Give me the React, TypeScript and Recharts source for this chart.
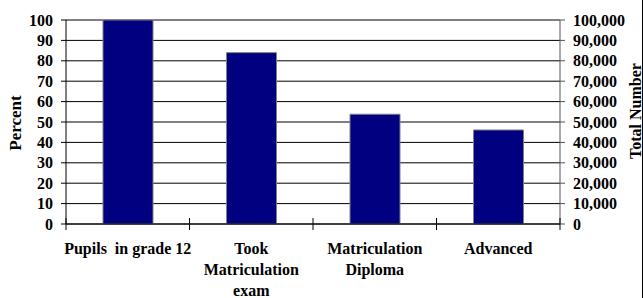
import { BarChart, Bar, XAxis, YAxis, CartesianGrid } from "recharts";

const categories = [
  "Pupils  in grade 12",
  "Took\nMatriculation\nexam",
  "Matriculation\nDiploma",
  "Advanced",
];
const percentValues = [100, 84, 53.8, 46.1];
const percentTicks = [0, 10, 20, 30, 40, 50, 60, 70, 80, 90, 100];
const totalTicks = [0, 10000, 20000, 30000, 40000, 50000, 60000, 70000, 80000, 90000, 100000];

const data = categories.map((name, i) => ({ name, percent: percentValues[i] }));

const font = "Liberation Serif, Times New Roman, serif";

function CategoryTick(props: any) {
  const { x, y, payload, index, visibleTicksCount, width } = props;
  const half = payload.offset || width / visibleTicksCount / 2;
  const lines = String(payload.value).split("\n");
  return (
    <g>
      <line x1={x - half} x2={x - half} y1={y - 6} y2={y + 6} stroke="#000" />
      {index === visibleTicksCount - 1 && (
        <line x1={x + half} x2={x + half} y1={y - 6} y2={y + 6} stroke="#000" />
      )}
      <text
        x={x}
        y={y + 30}
        textAnchor="middle"
        fill="#000"
        style={{ whiteSpace: "pre", fontFamily: font, fontWeight: "bold", fontSize: 16 }}
      >
        {lines.map((l, i) => (
          <tspan key={i} x={x} dy={i === 0 ? 0 : 21}>
            {l}
          </tspan>
        ))}
      </text>
    </g>
  );
}

const tickStyle = { fill: "#000", style: { fontFamily: font, fontWeight: "bold", fontSize: 16 } };

export default function App() {
  return (
    <div
      style={{
        position: "absolute",
        left: 0,
        top: 0,
        width: 642,
        height: 298,
        borderRight: "1px solid #000",
        overflow: "hidden",
        background: "#fff",
      }}
    >
      <BarChart
        width={642}
        height={298}
        data={data}
        margin={{ top: 20, right: 0, bottom: 0, left: 0 }}
      >
        <CartesianGrid yAxisId="left" vertical={false} stroke="#000" />
        <XAxis
          dataKey="name"
          height={74}
          interval={0}
          tickLine={false}
          tickSize={0}
          tickMargin={0}
          axisLine={{ stroke: "#000" }}
          tick={<CategoryTick />}
        />
        <YAxis
          yAxisId="left"
          width={66}
          domain={[0, 100]}
          ticks={percentTicks}
          interval={0}
          tickSize={5}
          tickMargin={8}
          axisLine={{ stroke: "#000" }}
          tickLine={{ stroke: "#000" }}
          tick={tickStyle}
          label={(p: any) => {
            const vb = p.viewBox;
            const cx = vb.x + 15;
            const cy = vb.y + vb.height / 2 + 1;
            return (
              <text
                x={cx}
                y={cy}
                transform={`rotate(-90, ${cx}, ${cy})`}
                textAnchor="middle"
                dominantBaseline="central"
                fill="#000"
                style={{ fontFamily: font, fontWeight: "bold", fontSize: 17 }}
              >
                Percent
              </text>
            );
          }}
        />
        <YAxis
          yAxisId="right"
          orientation="right"
          width={82}
          domain={[0, 100000]}
          allowDataOverflow
          ticks={totalTicks}
          interval={0}
          tickSize={5}
          tickMargin={8}
          axisLine={{ stroke: "#555" }}
          tickLine={{ stroke: "#555" }}
          tickFormatter={(v: number) => v.toLocaleString("en-US")}
          tick={tickStyle}
          label={(p: any) => {
            const vb = p.viewBox;
            const cx = vb.x + vb.width - 7;
            const cy = vb.y + vb.height / 2 - 11;
            return (
              <text
                x={cx}
                y={cy}
                transform={`rotate(-90, ${cx}, ${cy})`}
                textAnchor="middle"
                dominantBaseline="central"
                fill="#000"
                style={{ fontFamily: font, fontWeight: "bold", fontSize: 16 }}
              >
                Total Number
              </text>
            );
          }}
        />
        <Bar
          yAxisId="left"
          dataKey="percent"
          fill="#000080"
          stroke="#808080"
          strokeWidth={1}
          barSize={50}
          isAnimationActive={false}
        />
      </BarChart>
    </div>
  );
}
